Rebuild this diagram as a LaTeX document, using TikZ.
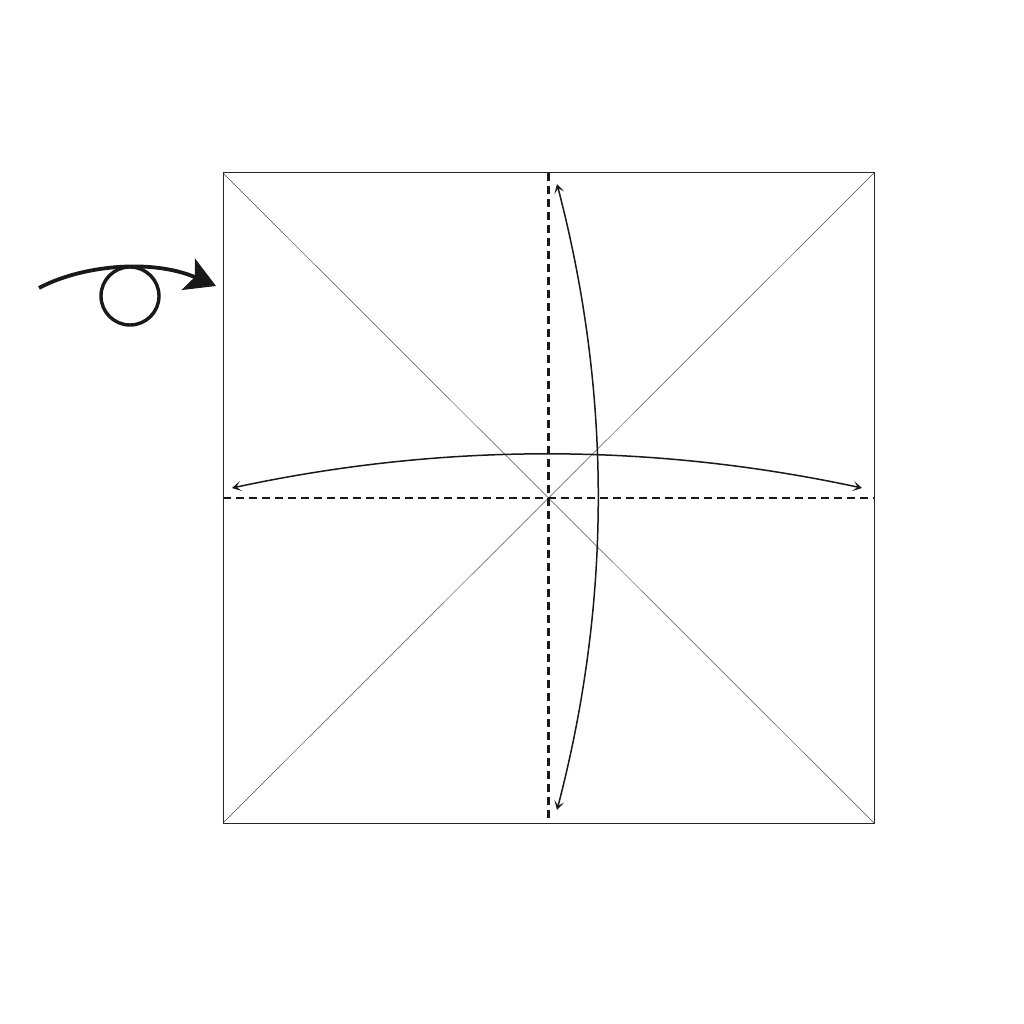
\documentclass[tikz,border=0pt]{standalone}
\usetikzlibrary{arrows.meta}
\begin{document}
\begin{tikzpicture}[x=1pt,y=-1pt,
  edge/.style={line width=1pt,draw=black!85},
  diag/.style={line width=0.5pt,draw=black!70},
  valley/.style={line width=2.2pt,dash pattern=on 8pt off 5pt,draw=black!90},
  movearrow/.style={line width=1.5pt,draw=black!90,{Stealth[length=9pt,width=10pt,inset=4.5pt]}-{Stealth[length=9pt,width=10pt,inset=4.5pt]}},
  turnarrow/.style={line width=3.8pt,draw=black!90,-{Stealth[length=30pt,width=34pt,inset=7pt]}},
  turncircle/.style={line width=3.4pt,draw=black!90}]
\useasboundingbox (0,0) rectangle (1024,1024);
\coordinate (TL) at (223,173);
\coordinate (TR) at (874,173);
\coordinate (BR) at (874,823);
\coordinate (BL) at (223,823);
\coordinate (C) at (548.5,498);
\coordinate (TM) at (548.5,173);
\coordinate (BM) at (548.5,823);
\coordinate (LM) at (223,498);
\coordinate (RM) at (874,498);
% diagonals
\draw[diag] (TL) -- (BR);
\draw[diag] (TR) -- (BL);
% square
\draw[edge] (TL) -- (TR) -- (BR) -- (BL) -- cycle;
% dashed valley folds
\draw[valley] (LM) -- (RM);
\draw[valley] (TM) -- (BM);
% fold-and-unfold arrows
\coordinate (hL) at (232,488);
\coordinate (hR) at (862,488);
\draw[movearrow] (hL) .. controls (442.7,442.7) and (651.3,442.7) .. (hR);
\coordinate (vT) at (557,184);
\coordinate (vB) at (557,810);
\draw[movearrow] (vT) .. controls (611.7,393) and (611.7,601) .. (vB);
% turn-over symbol
\coordinate (tS) at (39,288);
\coordinate (tE) at (216,286);
\node[turncircle,circle,minimum size=58pt,inner sep=0pt] (tc) at (130,296) {};
\draw[turnarrow] (tS) .. controls (80,266) and (150,258) .. (tE);
\end{tikzpicture}
\end{document}
